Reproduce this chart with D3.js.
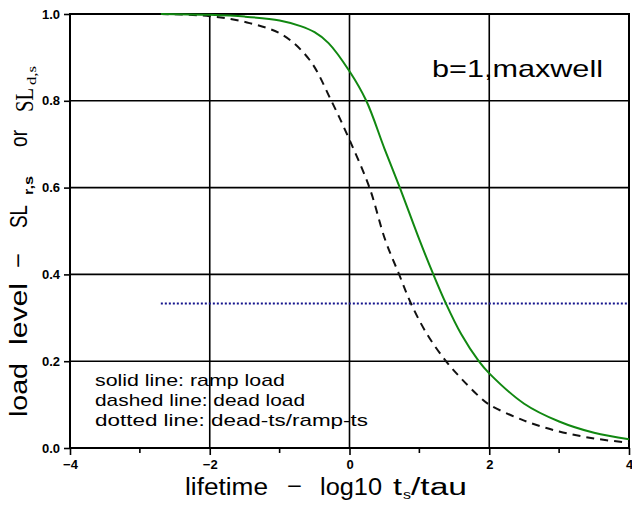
<!DOCTYPE html>
<html>
<head>
<meta charset="utf-8">
<script src="https://cdn.jsdelivr.net/npm/d3@7"></script>
<style>
	body { margin: 0; background: #fff; }
	text { font-family: "Liberation Sans", Arial, sans-serif; }
</style>
</head>
<body>
<script>
// values: x = log10 ts/tau, y = load level
var rampX = [-2.7, -2.0, -1.5, -1.0, -0.7, -0.5, -0.3, 0.0, 0.24, 0.5, 0.72, 1.0, 1.2, 1.38, 1.6, 1.85, 2.0, 2.5, 3.0, 3.5, 4.0];
var rampY = [1.0, 0.998, 0.994, 0.985, 0.972, 0.958, 0.933, 0.868, 0.80, 0.69, 0.60, 0.48, 0.40, 0.333, 0.262, 0.20, 0.172, 0.102, 0.061, 0.035, 0.020];
var deadX = [-2.7, -2.0, -1.43, -0.96, -0.57, -0.26, 0.0, 0.286, 0.51, 0.71, 0.88, 1.1, 1.38, 1.6, 1.88, 2.0, 2.5, 3.0, 3.5, 4.0];
var deadY = [1.0, 0.995, 0.979, 0.952, 0.894, 0.80, 0.71, 0.60, 0.48, 0.40, 0.333, 0.265, 0.20, 0.16, 0.115, 0.100, 0.063, 0.038, 0.022, 0.012];
var ratioX = [-2.7, 4.0];
var ratioY = [0.333, 0.333];
var xTicks = [-4, -2, 0, 2, 4];
var xMinor = [-3, -1, 1, 3];
var yTicks = [0, 0.2, 0.4, 0.6, 0.8, 1.0];
var legendLines = ['solid line: ramp load', 'dashed line: dead load', 'dotted line: dead-ts/ramp-ts'];

var width = 632, height = 507;
var x = d3.scaleLinear().domain([-4, 4]).range([70, 629]);
var y = d3.scaleLinear().domain([0, 1]).range([448, 14]);

var svg = d3.select('body').append('svg')
	.attr('width', width)
	.attr('height', height);

// grid
svg.append('g').selectAll('line')
	.data(yTicks.slice(1))
	.join('line')
		.attr('x1', x(-4)).attr('x2', x(4))
		.attr('y1', d => y(d)).attr('y2', d => y(d))
		.attr('stroke', '#000').attr('stroke-width', 1.6);
svg.append('g').selectAll('line')
	.data(xTicks.slice(1))
	.join('line')
		.attr('x1', d => x(d)).attr('x2', d => x(d))
		.attr('y1', y(0)).attr('y2', y(1))
		.attr('stroke', '#000').attr('stroke-width', 1.6);

// axes
var xAxis = d3.axisBottom(x).tickValues(xTicks).tickSize(7).tickFormat(d3.format('d'));
var gx = svg.append('g').attr('transform', 'translate(0,' + y(0) + ')').call(xAxis);
gx.append('g').selectAll('line')
	.data(xMinor)
	.join('line')
		.attr('x1', d => x(d)).attr('x2', d => x(d))
		.attr('y1', 0).attr('y2', 5)
		.attr('stroke', '#000').attr('stroke-width', 1.6);

var yAxis = d3.axisLeft(y).tickValues(yTicks).tickSize(6).tickFormat(d3.format('.1f'));
var gy = svg.append('g').attr('transform', 'translate(' + x(-4) + ',0)').call(yAxis);

svg.selectAll('.domain').attr('d', null);
svg.selectAll('.tick line').attr('stroke-width', 1.6);
gx.selectAll('.tick text').attr('font-size', 13).attr('font-weight', 'bold').attr('dy', '0.85em');
gy.selectAll('.tick text').attr('font-size', 13).attr('font-weight', 'bold').attr('x', -10);

// frame
svg.append('rect')
	.attr('x', x(-4)).attr('y', y(1))
	.attr('width', x(4) - x(-4)).attr('height', y(0) - y(1))
	.attr('fill', 'none').attr('stroke', '#000').attr('stroke-width', 2);

// curves
var line = d3.line().x(d => x(d[0])).y(d => y(d[1])).curve(d3.curveCatmullRom.alpha(0.5));

svg.append('path')
	.datum(d3.zip(ratioX, ratioY))
	.attr('d', line)
	.attr('fill', 'none').attr('stroke', '#14148c').attr('stroke-width', 2)
	.attr('stroke-dasharray', '2,2');

svg.append('path')
	.datum(d3.zip(deadX, deadY))
	.attr('d', line)
	.attr('fill', 'none').attr('stroke', '#111').attr('stroke-width', 2)
	.attr('stroke-dasharray', '8,6');

svg.append('path')
	.datum(d3.zip(rampX, rampY))
	.attr('d', line)
	.attr('fill', 'none').attr('stroke', '#118811').attr('stroke-width', 2);

// annotations
svg.append('text')
	.attr('x', 432).attr('y', 77)
	.attr('font-size', 24)
	.attr('textLength', 171).attr('lengthAdjust', 'spacingAndGlyphs')
	.text('b=1,maxwell');

svg.append('g').selectAll('text')
	.data(legendLines)
	.join('text')
		.attr('x', 95).attr('y', (d, i) => 386 + i * 20)
		.attr('font-size', 17)
		.attr('textLength', (d, i) => [190, 210, 273][i])
		.attr('lengthAdjust', 'spacingAndGlyphs')
		.text(d => d);

// x label, word by word: [text, x, length, baseline, size]
var xLabel = [
	['lifetime', 185, 83, 495, 23],
	['\u2212', 287, 15, 494, 23],
	['log10', 320, 62, 495, 23],
	['t', 393, 9, 495, 23],
	['s', 403, 8, 499, 13],
	['/tau', 411, 56, 495, 23]
];
svg.append('g').selectAll('text')
	.data(xLabel)
	.join('text')
		.attr('x', d => d[1]).attr('y', d => d[3])
		.attr('font-size', d => d[4])
		.attr('textLength', d => d[2]).attr('lengthAdjust', 'spacingAndGlyphs')
		.text(d => d[0]);

// y label, word by word: [text, bottom y, length, baseline x, size, family, weight]
var yLabel = [
	['load', 417, 54, 27, 23, 'sans', 'normal'],
	['level', 345, 62, 27, 23, 'sans', 'normal'],
	['\u2212', 268, 15, 26, 23, 'sans', 'normal'],
	['SL', 228, 23, 27, 23, 'sans', 'normal'],
	['r,s', 195, 19, 33, 12, 'sans', 'bold'],
	['or', 147, 17, 27, 23, 'sans', 'normal'],
	['SL', 112, 24, 33, 26, 'serif', 'normal'],
	['d,s', 85, 19, 36, 12, 'serif', 'normal']
];
svg.append('g').selectAll('text')
	.data(yLabel)
	.join('text')
		.attr('transform', d => 'translate(' + d[3] + ',' + d[1] + ') rotate(-90)')
		.attr('font-size', d => d[4])
		.attr('font-weight', d => d[6])
		.style('font-family', d => d[5] === 'serif' ? '"Liberation Serif", serif' : null)
		.attr('textLength', d => d[2]).attr('lengthAdjust', 'spacingAndGlyphs')
		.text(d => d[0]);
</script>
</body>
</html>
